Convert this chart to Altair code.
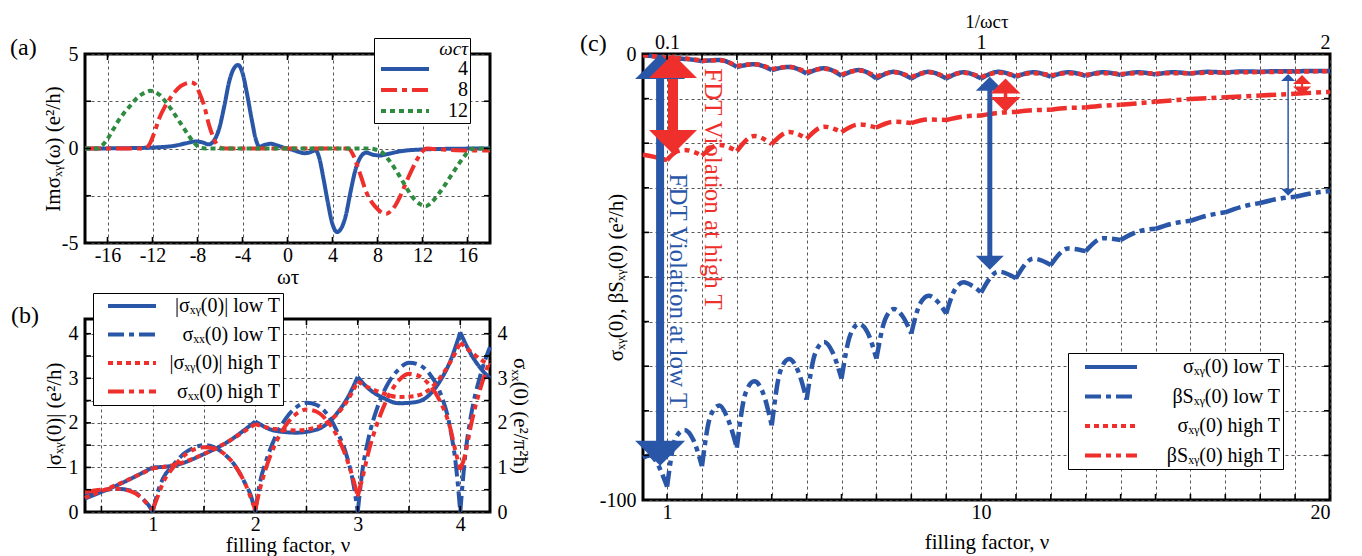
import altair as alt
import pandas as pd

FONT = "Liberation Serif"
BLUE = "#2a56a8"
RED = "#ee2f2b"
GREEN = "#2e8b40"
SOLID = [1, 0]
DASHDOT = [16, 5, 5, 5]
DOT = [5, 4]
DASHDOTDOT = [16, 5, 5, 5, 5, 5]
LEG_PATH = "M-3,0H3"

# ---------------- panel (a): Im sigma_xy(omega) ----------------
a_series = ["4", "8", "12"]
a_x4 = [-18, -14, -12, -10, -9, -8.2, -7.6, -7.0, -6.5, -6.1, -5.6, -5.2, -4.8, -4.4, -4.0, -3.6, -3.2,
        -2.8, -2.5, -2.0, -1.5, -1.0, -0.5, 0, 0.5, 1.0, 1.5, 2.0, 2.5, 2.8, 3.2, 3.6, 4.0, 4.4, 4.8,
        5.2, 5.6, 6.1, 6.5, 7.0, 7.6, 8.2, 9, 10, 12, 14, 18]
a_y4 = [0, 0.02, 0.05, 0.15, 0.28, 0.37, 0.33, 0.22, 0.45, 1.0, 2.3, 3.5, 4.2, 4.42, 4.0, 2.9, 1.6,
        0.45, 0.1, 0.2, 0.25, 0.18, 0.08, 0, -0.08, -0.18, -0.25, -0.2, -0.1, -0.45, -1.6, -2.9, -4.0,
        -4.42, -4.2, -3.5, -2.3, -1.0, -0.45, -0.22, -0.33, -0.37, -0.28, -0.15, -0.05, -0.02, 0]
a_x8 = [-18, -14, -12.7, -12.2, -11.8, -11.4, -11, -10.5, -10, -9.5, -9, -8.6, -8.2, -7.8, -7.4, -7,
        -6.6, -6.2, -5.8, -5.4, 0, 5.4, 5.8, 6.2, 6.6, 7, 7.5, 8, 8.5, 8.8, 9.2, 9.6, 10, 10.5, 11,
        11.5, 12, 12.4, 13, 14, 16, 18]
a_y8 = [0, 0, 0, 0.3, 0.9, 1.6, 2.1, 2.6, 3.0, 3.3, 3.45, 3.5, 3.4, 2.9, 2.25, 1.3, 0.6, 0.15, 0.02,
        0, 0, 0, -0.3, -0.9, -1.6, -2.3, -2.85, -3.2, -3.42, -3.45, -3.3, -3.0, -2.55, -1.85, -1.2,
        -0.6, -0.15, 0, -0.03, -0.06, -0.1, -0.1]
a_x12 = [-18, -17, -16.5, -16, -15.5, -15, -14.5, -14, -13.5, -13, -12.5, -12.2, -11.8, -11.3, -10.8,
         -10.3, -9.8, -9.3, -8.8, -8.3, -7.8, -7.3, 0, 7.3, 7.8, 8.3, 8.8, 9.3, 9.8, 10.3, 10.8, 11.3,
         11.8, 12.3, 12.8, 13.3, 13.8, 14.3, 14.8, 15.3, 15.8, 16.3, 16.8, 18]
a_y12 = [0, 0, 0.15, 0.5, 1.0, 1.5, 1.9, 2.25, 2.6, 2.85, 3.0, 3.05, 3.0, 2.8, 2.45, 2.05, 1.6, 1.15,
         0.7, 0.3, 0.05, 0, 0, 0, -0.05, -0.15, -0.45, -0.85, -1.3, -1.8, -2.3, -2.7, -2.95, -3.05,
         -2.85, -2.5, -2.1, -1.65, -1.2, -0.75, -0.35, -0.05, 0, 0]
a_x_ticks = [-16, -12, -8, -4, 0, 4, 8, 12, 16]
a_y_ticks = [-5, -2.5, 0, 2.5, 5]

# ---------------- panel (b): conductivities vs filling factor ----------------
b_series = ["|σₓᵧ(0)| low T", "σₓₓ(0) low T", "|σₓᵧ(0)| high T", "σₓₓ(0) high T"]
b_nu_xy = [0.34, 0.5, 0.7, 0.85, 1.0, 1.2, 1.5, 1.75, 1.9, 2.0, 2.2, 2.4, 2.6, 2.8, 2.9, 3.0, 3.1,
           3.25, 3.4, 3.55, 3.7, 3.8, 3.9, 4.0, 4.1, 4.2, 4.29]
b_xy_lo = [0.3, 0.45, 0.65, 0.82, 1.0, 1.04, 1.3, 1.6, 1.85, 2.03, 1.82, 1.78, 1.85, 2.22, 2.56, 3.03,
           2.78, 2.56, 2.44, 2.46, 2.63, 2.93, 3.37, 4.03, 3.56, 3.22, 3.0]
b_xy_hi = [0.32, 0.47, 0.66, 0.82, 0.98, 1.05, 1.3, 1.6, 1.82, 1.97, 1.86, 1.83, 1.9, 2.2, 2.5, 2.93,
           2.8, 2.66, 2.58, 2.6, 2.75, 3.0, 3.35, 3.8, 3.6, 3.42, 3.3]
b_nu_xx = [0.34, 0.5, 0.65, 0.8, 0.9, 0.97, 1.0, 1.05, 1.1, 1.2, 1.3, 1.4, 1.5, 1.6, 1.7, 1.8, 1.9, 1.96,
           2.0, 2.05, 2.1, 2.2, 2.3, 2.4, 2.5, 2.6, 2.7, 2.8, 2.9, 2.96, 3.0, 3.05, 3.1, 3.2, 3.3,
           3.4, 3.5, 3.6, 3.7, 3.8, 3.9, 3.96, 4.0, 4.05, 4.1, 4.2, 4.29]
b_xx_lo = [0.38, 0.47, 0.52, 0.47, 0.3, 0.12, 0.0, 0.45, 0.75, 1.05, 1.3, 1.44, 1.5, 1.45, 1.3, 1.05,
           0.65, 0.35, 0.0, 0.7, 1.1, 1.7, 2.1, 2.35, 2.45, 2.4, 2.2, 1.8, 1.2, 0.6, 0.0, 1.0, 1.6,
           2.4, 2.9, 3.2, 3.35, 3.3, 3.1, 2.7, 1.9, 1.0, 0.0, 1.3, 2.1, 3.1, 3.7]
b_xx_hi = [0.45, 0.5, 0.52, 0.45, 0.3, 0.12, 0.05, 0.35, 0.65, 1.0, 1.25, 1.4, 1.45, 1.42, 1.3, 1.05,
           0.65, 0.3, 0.05, 0.55, 0.95, 1.55, 1.95, 2.2, 2.3, 2.25, 2.05, 1.7, 1.15, 0.7, 0.35, 0.8,
           1.3, 2.05, 2.6, 2.95, 3.1, 3.05, 2.85, 2.5, 1.9, 1.3, 0.95, 1.3, 1.9, 2.8, 3.4]
b_x_ticks = [0.5, 1, 1.5, 2, 2.5, 3, 3.5, 4]
b_y_ticks = [0, 0.5, 1, 1.5, 2, 2.5, 3, 3.5, 4]

# ---------------- panel (c): sigma_xy and beta S_xy over nu ----------------
c_series = ["σₓᵧ(0) low T", "βSₓᵧ(0) low T", "σₓᵧ(0) high T", "βSₓᵧ(0) high T"]
c_nu_s = [0.31, 0.5, 0.75, 1, 1.5, 2, 2.5, 3, 3.5, 4, 4.5, 5, 5.5, 6, 6.5, 7, 7.5, 8, 8.5, 9, 9.5, 10,
          10.5, 11, 11.5, 12, 12.5, 13, 13.5, 14, 14.5, 15, 15.5, 16, 16.5, 17, 17.5, 18, 18.5, 19,
          19.5, 20]
c_sig_lo = [-0.3, -0.4, -0.7, -1.0, -1.1, -1.6, -1.35, -2.9, -2.3, -3.6, -2.9, -4.4, -3.2, -4.9, -3.6,
            -5.5, -4.0, -5.5, -4.0, -5.5, -4.1, -5.5, -4.0, -5.1, -4.1, -5.1, -4.1, -4.9, -4.1, -4.7,
            -4.1, -4.6, -4.1, -4.4, -4.0, -4.2, -3.9, -4.0, -3.85, -3.9, -3.8, -3.8]
c_sig_hi = [-0.3, -0.4, -0.65, -0.9, -1.0, -1.5, -1.4, -2.7, -2.3, -3.4, -2.9, -4.1, -3.3, -4.6, -3.7,
            -5.1, -4.1, -5.2, -4.1, -5.2, -4.2, -5.2, -4.2, -4.9, -4.3, -4.8, -4.3, -4.7, -4.3, -4.5,
            -4.3, -4.4, -4.3, -4.3, -4.2, -4.15, -4.1, -4.05, -4.0, -3.95, -3.9, -3.85]
c_nu_b_lo = [0.31, 0.5, 0.7, 0.85, 1, 1.25, 1.5, 1.75, 2, 2.25, 2.5, 2.75, 3, 3.25, 3.5, 3.75, 4,
             4.25, 4.5, 4.75, 5, 5.25, 5.5, 5.75, 6, 6.25, 6.5, 6.75, 7, 7.25, 7.5, 7.75, 8, 8.25, 8.5,
             8.75, 9, 9.25, 9.5, 9.75, 10, 10.5, 11, 11.5, 12, 12.5, 13, 13.5, 14, 14.5, 15, 15.5,
             16, 16.5, 17, 17.5, 18, 18.5, 19, 19.5, 20]
c_bS_lo = [-90.5, -90, -91.5, -94, -97, -86, -84.3, -86.5, -92.4, -81, -78.8, -82, -88.3, -76, -73.4,
           -76, -83.3, -71, -68.4, -71, -77.5, -67, -64.6, -67, -72.8, -63, -60.5, -62.5, -68.3,
           -59.5, -57.2, -58.8, -62.7, -56, -54.2, -55.5, -58.2, -52.8, -51.2, -52, -53.5, -48.8,
           -50.3, -45.9, -47.3, -43.6, -44.2, -41.3, -41.7, -39.8, -39.2, -38, -37.4, -36.2, -35.5,
           -34.2, -33.4, -32.5, -32, -31.2, -30.7]
c_nu_b_hi = [0.31, 0.6, 0.85, 1, 1.25, 1.5, 1.75, 2, 2.5, 3, 3.5, 4, 4.5, 5, 5.5, 6, 6.5, 7, 7.5, 8,
             8.5, 9, 9.5, 10, 10.5, 11, 11.5, 12, 12.5, 13, 13.5, 14, 15, 16, 17, 18, 19, 20]
c_bS_hi = [-22.6, -23, -23.5, -23.8, -22, -21.5, -21.9, -22.8, -20.4, -21.8, -18.4, -20.2, -17.5, -19,
           -16.3, -17.5, -15.8, -16.5, -15.2, -15.5, -14.7, -14.8, -14.0, -13.8, -13.2, -13.0, -12.6,
           -12.5, -12.1, -12.0, -11.6, -11.4, -10.7, -10.1, -9.7, -9.3, -8.9, -8.5]
c_x_ticks = list(range(1, 21))
c_x_labelled = [1, 10, 20]
c_top_labels = ["0.1", "1", "2"]
c_y_ticks = list(range(-100, 1, 10))
c_y_labelled = [0, -100]

# FDT-violation arrows and notes in (c)
arrow_nu = [0.8, 1.17, 10.25, 10.7, 18.8, 19.2]
arrow_top = [0, 0, -5.1, -5.5, -4.5, -4.7]
arrow_bot = [-92.3, -22.4, -48.4, -13.0, -31.8, -9.3]
arrow_col = [BLUE, RED, BLUE, RED, BLUE, RED]
arrow_shaft_px = [8, 10, 5, 3.5, 1.5, 2]
arrow_head_px = [50, 48, 28, 30, 14, 18]
note_nu = [2.32, 1.32]
note_v = [-3.2, -26.8]
note_text = ["FDT Violation at high T", "FDT Violation at low T"]
note_col = [RED, BLUE]

# ---------------- sizes ----------------
AW, AH = 405, 189
BW, BH = 405, 193
CW, CH = 687, 446
TL = 6


def rows_for(xs, ys, name, split_int=True):
    out = []
    seg = 0
    n = len(xs)
    for i, (x, y) in enumerate(zip(xs, ys)):
        out.append({"x": x, "y": y, "s": name, "seg": f"{name}#{seg}"})
        if split_int and 0 < i < n - 1 and float(x).is_integer():
            seg += 1
            out.append({"x": x, "y": y, "s": name, "seg": f"{name}#{seg}"})
    return out


def lines(df, domain, colors, dashes, xs, ys, xaxis, yaxis, legend, sw=4):
    return alt.Chart(df).mark_line(strokeWidth=sw, interpolate="monotone", strokeCap="butt").encode(
        x=alt.X("x:Q", scale=xs, axis=xaxis),
        y=alt.Y("y:Q", scale=ys, axis=yaxis),
        color=alt.Color("s:N", scale=alt.Scale(domain=domain, range=colors), legend=legend),
        strokeDash=alt.StrokeDash("s:N", scale=alt.Scale(domain=domain, range=dashes), legend=legend),
        detail="seg:N",
    )


def frame_ticks(xv, yv, xs, ys, W, H, top_axis=None, right_axis=None):
    tx = alt.Chart(pd.DataFrame({"x": xv})).mark_rule(color="black", strokeWidth=1.6)
    ty = alt.Chart(pd.DataFrame({"y": yv})).mark_rule(color="black", strokeWidth=1.6)
    return [
        tx.encode(x=alt.X("x:Q", scale=xs, axis=None), y=alt.value(H), y2=alt.value(H - TL)),
        tx.encode(x=alt.X("x:Q", scale=xs, axis=top_axis), y=alt.value(0), y2=alt.value(TL)),
        ty.encode(y=alt.Y("y:Q", scale=ys, axis=None), x=alt.value(0), x2=alt.value(TL)),
        ty.encode(y=alt.Y("y:Q", scale=ys, axis=right_axis), x=alt.value(W), x2=alt.value(W - TL)),
    ]


def panel_label(txt, dx, dy):
    return alt.Chart(pd.DataFrame({"t": [txt]})).mark_text(
        font=FONT, fontSize=24, align="left", baseline="middle", color="black"
    ).encode(text="t:N", x=alt.value(dx), y=alt.value(dy))


def int_label_expr(vals):
    cond = " || ".join(f"datum.value == {v}" for v in vals)
    return f"({cond}) ? toString(datum.value) : ''"


# ---------- build (a)
dfa = pd.DataFrame(rows_for(a_x4, a_y4, "4", False) + rows_for(a_x8, a_y8, "8", False)
                   + rows_for(a_x12, a_y12, "12", False))
xa = alt.Scale(domain=[-18, 18], nice=False, zero=False)
ya = alt.Scale(domain=[-5, 5], nice=False)
leg_a = alt.Legend(title="ωcτ", orient="none", legendX=289, legendY=-16, titleAnchor="end",
                   titleFontStyle="italic", titleFontSize=19, labelAlign="right", symbolType=LEG_PATH,
                   symbolSize=256, symbolOffset=19, labelOffset=53, padding=2, rowPadding=1,
                   titlePadding=0, labelFontSize=20)
la = lines(dfa, a_series, [BLUE, RED, GREEN], [SOLID, DASHDOT, DOT], xa, ya,
           alt.Axis(values=a_x_ticks, title="ωτ", labelExpr="toString(datum.value)", labelPadding=2,
                    titlePadding=1),
           alt.Axis(values=a_y_ticks, title="Imσₓᵧ(ω)  (e²/h)", titlePadding=-2,
                    labelExpr="datum.value % 5 == 0 ? toString(datum.value) : ''"),
           leg_a)
pa = alt.layer(la, *frame_ticks(a_x_ticks, a_y_ticks, xa, ya, AW, AH),
               panel_label("(a)", -75, -6)).resolve_axis(x="independent", y="independent"
                                                         ).properties(width=AW, height=AH)

# ---------- build (b)
dfb = pd.DataFrame(rows_for(b_nu_xy, b_xy_lo, b_series[0]) + rows_for(b_nu_xx, b_xx_lo, b_series[1])
                   + rows_for(b_nu_xy, b_xy_hi, b_series[2]) + rows_for(b_nu_xx, b_xx_hi, b_series[3]))
xb = alt.Scale(domain=[0.34, 4.29], nice=False, zero=False)
yb = alt.Scale(domain=[0, 4.33], nice=False)
leg_b = alt.Legend(title=None, orient="none", legendX=8, legendY=-26, labelAlign="right",
                   symbolType=LEG_PATH, symbolSize=256, symbolOffset=26, labelOffset=138,
                   padding=3, rowPadding=8.5, labelFontSize=20)
lb = lines(dfb, b_series, [BLUE, BLUE, RED, RED], [SOLID, DASHDOT, DOT, DASHDOTDOT], xb, yb,
           alt.Axis(values=b_x_ticks, title="filling factor,  ν", labelExpr=int_label_expr([1, 2, 3, 4]),
                    labelPadding=2, titlePadding=0),
           alt.Axis(values=b_y_ticks, title="|σₓᵧ(0)|  (e²/h)", labelExpr=int_label_expr([0, 1, 2, 3, 4])),
           leg_b)
right_b = alt.Axis(orient="right", values=b_y_ticks, title="σₓₓ(0)  (e²/π²ħ)", grid=False,
                   labelExpr=int_label_expr([0, 1, 2, 3, 4]), titlePadding=2)
pb = alt.layer(lb, *frame_ticks(b_x_ticks, b_y_ticks, xb, yb, BW, BH, right_axis=right_b),
               panel_label("(b)", -74, -3)).resolve_axis(x="independent", y="independent"
                                                         ).properties(width=BW, height=BH)

# ---------- build (c)
dfc = pd.DataFrame(rows_for(c_nu_s, c_sig_lo, c_series[0]) + rows_for(c_nu_b_lo, c_bS_lo, c_series[1])
                   + rows_for(c_nu_s, c_sig_hi, c_series[2]) + rows_for(c_nu_b_hi, c_bS_hi, c_series[3]))
xc = alt.Scale(domain=[0.31, 20], nice=False, zero=False)
yc = alt.Scale(domain=[-100, 0], nice=False)
leg_c = alt.Legend(title=None, orient="none", legendX=425, legendY=299, labelAlign="right",
                   symbolType=LEG_PATH, symbolSize=300, symbolOffset=29, labelOffset=158,
                   padding=3, rowPadding=8.5, labelFontSize=20)
lc = lines(dfc, c_series, [BLUE, BLUE, RED, RED], [SOLID, DASHDOT, DOT, DASHDOTDOT], xc, yc,
           alt.Axis(values=c_x_ticks, title="filling factor,  ν", labelExpr=int_label_expr(c_x_labelled),
                    labelPadding=2, titlePadding=9),
           alt.Axis(values=c_y_ticks, title="σₓᵧ(0),  βSₓᵧ(0)  (e²/h)", titlePadding=-27,
                    labelExpr=int_label_expr(c_y_labelled)),
           leg_c, sw=4.5)
top_expr = " : ".join(f"datum.value == {v} ? '{t}'" for v, t in zip(c_x_labelled, c_top_labels)) + " : ''"
top_c = alt.Axis(orient="top", values=c_x_labelled, title="1/ωcτ", grid=False, labelExpr=top_expr,
                 labelPadding=2, titlePadding=1, titleFontSize=19)

px_per_unit = CH / 100.0
arr = pd.DataFrame({"nu": arrow_nu, "top": arrow_top, "bot": arrow_bot, "col": arrow_col,
                    "sw": arrow_shaft_px, "hw": arrow_head_px})
arr["size"] = arr["hw"] ** 2
arr["top_in"] = arr["top"] - arr["hw"] / 4 / px_per_unit
arr["bot_in"] = arr["bot"] + arr["hw"] / 4 / px_per_unit
shafts = alt.Chart(arr).mark_rule().encode(
    x=alt.X("nu:Q", scale=xc, axis=None), y=alt.Y("top_in:Q", scale=yc, axis=None), y2="bot_in:Q",
    color=alt.Color("col:N", scale=None), strokeWidth=alt.StrokeWidth("sw:Q", scale=None))
head_up = alt.Chart(arr).mark_point(filled=True, opacity=1, shape="M0,0L-1,1L1,1Z", strokeWidth=0).encode(
    x=alt.X("nu:Q", scale=xc, axis=None), y=alt.Y("top:Q", scale=yc, axis=None),
    color=alt.Color("col:N", scale=None), size=alt.Size("size:Q", scale=None))
head_dn = alt.Chart(arr).mark_point(filled=True, opacity=1, shape="M0,0L-1,-1L1,-1Z", strokeWidth=0).encode(
    x=alt.X("nu:Q", scale=xc, axis=None), y=alt.Y("bot:Q", scale=yc, axis=None),
    color=alt.Color("col:N", scale=None), size=alt.Size("size:Q", scale=None))
notes = alt.Chart(pd.DataFrame({"nu": note_nu, "v": note_v, "t": note_text, "col": note_col})).mark_text(
    font=FONT, fontSize=25, angle=90, align="left", baseline="middle").encode(
    x=alt.X("nu:Q", scale=xc, axis=None), y=alt.Y("v:Q", scale=yc, axis=None), text="t:N",
    color=alt.Color("col:N", scale=None))

pc = alt.layer(lc, *frame_ticks(c_x_ticks, c_y_ticks, xc, yc, CW, CH, top_axis=top_c),
               notes, shafts, head_up, head_dn, panel_label("(c)", -63, -10)
               ).resolve_axis(x="independent", y="independent").properties(width=CW, height=CH)

left = alt.vconcat(pa, pb, spacing=2).resolve_scale(color="independent", strokeDash="independent")
chart = alt.hconcat(left, pc, spacing=46).resolve_scale(
    color="independent", strokeDash="independent"
).properties(
    padding={"left": 0, "top": 2, "right": 0, "bottom": 0}, background="white"
).configure_axis(
    labelFont=FONT, titleFont=FONT, labelFontSize=20, titleFontSize=21, labelColor="black",
    titleColor="black", titleFontWeight="normal", domain=False, ticks=False, gridColor="#444",
    gridDash=[3, 3], gridWidth=0.9, labelPadding=7, titlePadding=4
).configure_view(stroke="black", strokeWidth=3).configure_legend(
    labelFont=FONT, titleFont=FONT, labelFontSize=20, titleFontSize=21, titleFontWeight="normal",
    labelColor="black", titleColor="black", strokeColor="black", fillColor="white",
    symbolStrokeWidth=4, labelLimit=400
)

chart.save("out.html", embed_options={"renderer": "svg", "actions": False})
